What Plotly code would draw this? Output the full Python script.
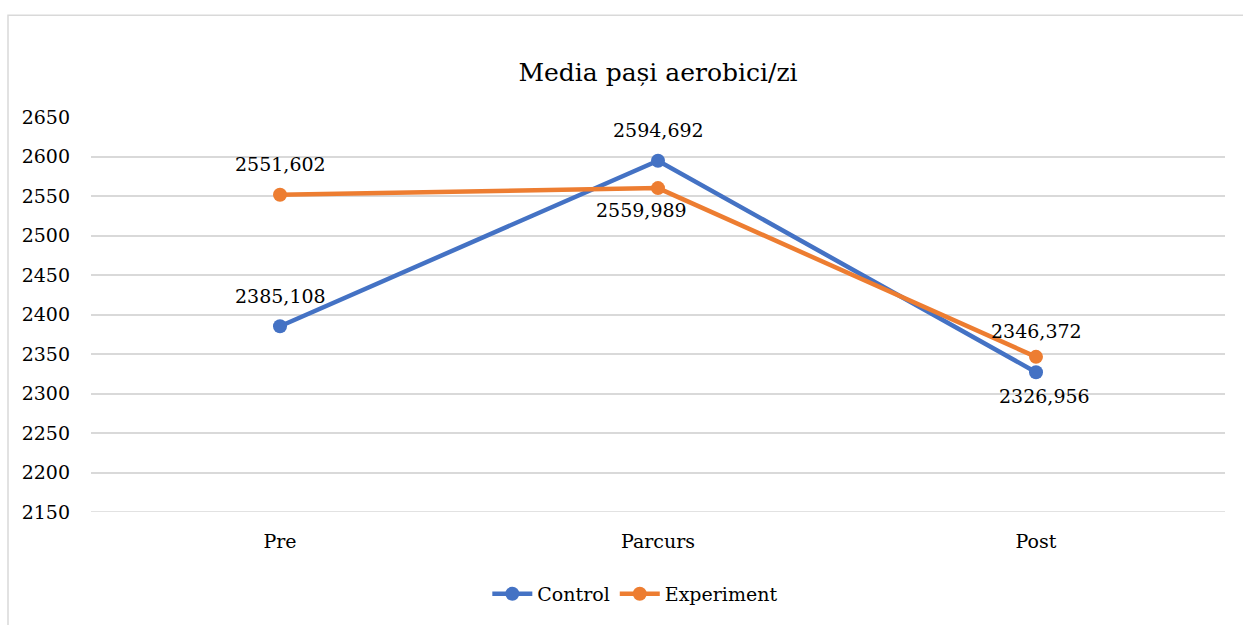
import plotly.graph_objects as go

categories = ["Pre", "Parcurs", "Post"]
control = [2385.108, 2594.692, 2326.956]
experiment = [2551.602, 2559.989, 2346.372]
y_ticks = [2150, 2200, 2250, 2300, 2350, 2400, 2450, 2500, 2550, 2600, 2650]
title = "Media pași aerobici/zi"

FONT = "DejaVu Serif"
BLUE = "#4472C4"
ORANGE = "#ED7D31"
FS = 19

fig = go.Figure()
fig.add_trace(go.Scatter(x=categories, y=control, name="Control", mode="lines+markers",
                         line=dict(color=BLUE, width=4.5), marker=dict(size=14, color=BLUE)))
fig.add_trace(go.Scatter(x=categories, y=experiment, name="Experiment", mode="lines+markers",
                         line=dict(color=ORANGE, width=4.5), marker=dict(size=14, color=ORANGE)))

def fmt(v):
    return f"{v:.3f}".replace(".", ",")

ctrl_pos = [30, 31, -24]
exp_pos = [31, -22, 26]
for c, v, s in zip(categories, control, ctrl_pos):
    fig.add_annotation(x=c, y=v, text=fmt(v), showarrow=False, yshift=s,
                       xshift=(8 if s < 0 else 0),
                       font=dict(family=FONT, size=FS, color="#000000"))
for c, v, s in zip(categories, experiment, exp_pos):
    fig.add_annotation(x=c, y=v, text=fmt(v), showarrow=False, yshift=s,
                       xshift=(-17 if s < 0 else 0),
                       font=dict(family=FONT, size=FS, color="#000000"))

fig.add_shape(type="rect", xref="paper", yref="paper",
              x0=(8 - 91) / 1134, x1=1.2, y0=-0.5, y1=(517 - 14) / 400,
              line=dict(color="#d9d9d9", width=1.5), fillcolor="rgba(0,0,0,0)", layer="below")
fig.add_shape(type="line", xref="paper", yref="y", x0=0, x1=1, y0=y_ticks[0], y1=y_ticks[0],
              line=dict(color="#d9d9d9", width=1.5), layer="below")

fig.update_layout(
    width=1243, height=625,
    margin=dict(l=91, r=18, t=117, b=108),
    paper_bgcolor="white", plot_bgcolor="white",
    font=dict(family=FONT, size=FS, color="#000000"),
    title=dict(text=title, x=0.5, xref="paper", xanchor="center", y=1 - 72 / 625, yanchor="middle",
               font=dict(family=FONT, size=25, color="#000000")),
    showlegend=True,
    legend=dict(orientation="h", x=0.48, xanchor="center", y=(517 - 600) / 400, yanchor="middle",
                font=dict(family=FONT, size=FS, color="#000000"), itemwidth=40),
    xaxis=dict(range=[-0.5, 2.5], showgrid=False, zeroline=False, showline=False, ticks="",
               tickfont=dict(family=FONT, size=FS, color="#000000"), ticklabelstandoff=16),
    yaxis=dict(range=[2150, 2650], tickvals=y_ticks, ticktext=[str(t) for t in y_ticks],
               showgrid=True, gridcolor="#d9d9d9", gridwidth=1.5, zeroline=False, showline=False,
               ticks="", tickfont=dict(family=FONT, size=FS, color="#000000"), ticklabelstandoff=20),
)
fig.write_html("out.html")
